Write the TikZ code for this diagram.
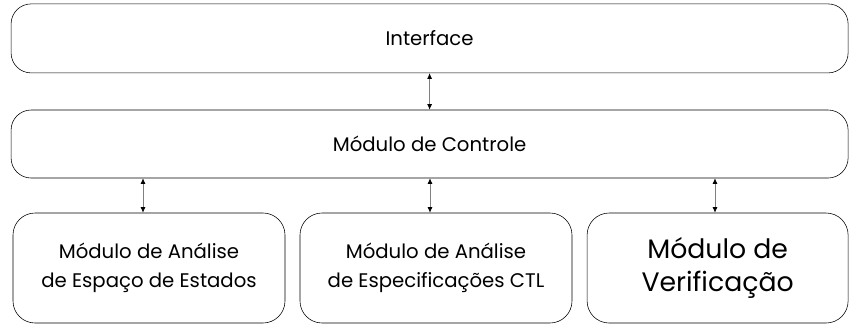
\documentclass[tikz,border=0pt]{standalone}
\usepackage{fontspec}
\setmainfont{Poppins}
\tikzset{>=latex}
\usetikzlibrary{arrows.meta}
\tikzset{
  layer/.style={draw,rounded corners=0.5cm,font=\fontsize{14}{17}\selectfont},
  module/.style={draw,rounded corners=0.55cm,align=center,minimum height=2.75cm,font=\fontsize{14}{21}\selectfont},
  link/.style={{Latex[color=black,length=4pt,width=3.5pt]}-{Latex[color=black,length=4pt,width=3.5pt]},gray,line width=0.5pt}
}

\begin{document}
\begin{tikzpicture}
  \useasboundingbox (0,0) rectangle (21.25,-8.275);
  % layers
  \node[layer,minimum width=20.925cm,minimum height=1.725cm] (iface) at (10.74,-0.96) {Interface};
  \node[layer,minimum width=20.925cm,minimum height=1.7cm] (ctrl) at (10.74,-3.6) {Módulo de Controle};
  % modules
  \node[module,minimum width=6.8cm] (space) at (3.725,-6.7) {Módulo de Análise\\de Espaço de Estados};
  \node[module,minimum width=6.8cm] (spec) at (10.9,-6.7) {Módulo de Análise\\de Especificações CTL};
  \node[module,minimum width=6.525cm,font=\fontsize{19}{23}\selectfont] (verif) at (17.94,-6.7) {Módulo de\\Verificação};
  % links
  \draw[link] (iface.south) -- (ctrl.north);
  \draw[link] (ctrl.south -| 3.575,0) -- (space.north -| 3.575,0);
  \draw[link] (ctrl.south -| 10.75,0) -- (spec.north -| 10.75,0);
  \draw[link] (ctrl.south -| 17.875,0) -- (verif.north -| 17.875,0);
\end{tikzpicture}
\end{document}
